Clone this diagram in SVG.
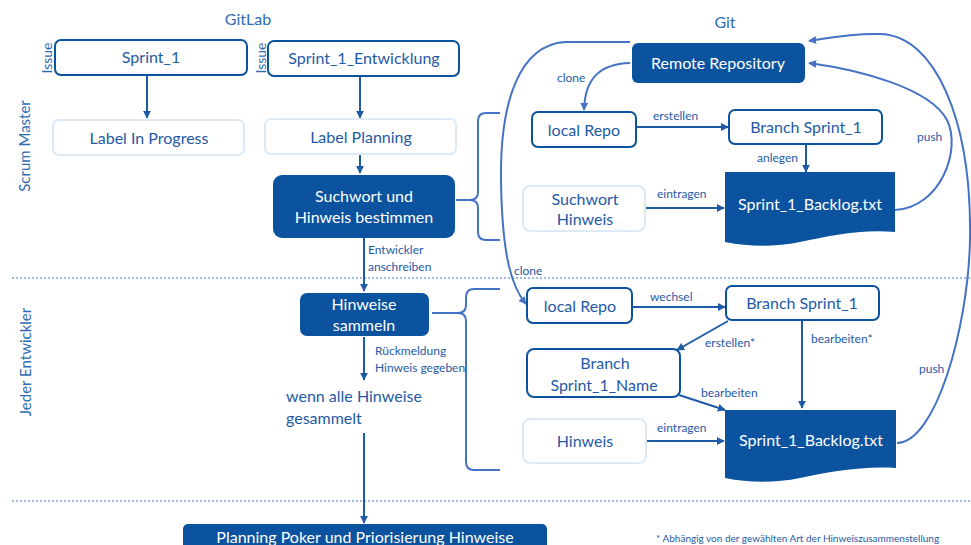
<svg xmlns="http://www.w3.org/2000/svg" width="971" height="545" viewBox="0 0 971 545">
<defs>
<style>
text{font-family:Lato,"Liberation Sans",sans-serif;}
.t{font-size:16px;fill:#1F5AA6;text-anchor:middle;}
.w{font-size:16px;fill:#FFFFFF;text-anchor:middle;}
.s{font-size:12px;fill:#1F5AA6;}
.big{font-size:16px;fill:#1F5AA6;}
.foot{font-size:10px;fill:#1F5AA6;}
.h{font-size:16px;fill:#2E6DB4;text-anchor:middle;}
.v{font-size:15px;fill:#2E6DB4;text-anchor:middle;}
.iss{font-size:14px;fill:#2E6DB4;text-anchor:middle;}
.box{fill:#FFFFFF;stroke:#0B539F;stroke-width:2;}
.lite{fill:#FFFFFF;stroke:#DDEAF6;stroke-width:2;}
.fill{fill:#0B539F;stroke:none;}
.a{fill:none;stroke:#1F5AA6;stroke-width:2;marker-end:url(#ah);}
.c{fill:none;stroke:#4472C4;stroke-width:2;}
.ca{fill:none;stroke:#4472C4;stroke-width:2;marker-end:url(#ah2);}
.dot{stroke:#4472C4;stroke-width:1;stroke-dasharray:2 2;}
</style>
<marker id="ah" viewBox="0 0 10 10" refX="9" refY="5" markerWidth="4" markerHeight="4" orient="auto"><path d="M0,0 L10,5 L0,10 z" fill="#1F5AA6"/></marker>
<marker id="ah2" viewBox="0 0 10 10" refX="9" refY="5" markerWidth="4" markerHeight="4" orient="auto"><path d="M0,0 L10,5 L0,10 z" fill="#4472C4"/></marker>
</defs>
<rect width="971" height="545" fill="#FFFFFF"/>

<g id="lanes">
<line class="dot" x1="12" y1="278" x2="971" y2="278"/>
<line class="dot" x1="12" y1="501" x2="971" y2="501"/>
<text class="v" transform="translate(30,146) rotate(-90)">Scrum Master</text>
<text class="v" transform="translate(31,362) rotate(-90)">Jeder Entwickler</text>
<text class="h" x="248" y="25">GitLab</text>
<text class="h" x="725" y="28">Git</text>
</g>

<g id="connectors">
<path class="a" d="M147,76 V118"/>
<path class="a" d="M360,77 V118"/>
<path class="a" d="M360,155 V173"/>
<path class="a" d="M364,238 V291"/>
<path class="a" d="M364,337 V380"/>
<path class="a" d="M364,433 V523"/>
<path class="a" d="M636,127 H728"/>
<path class="a" d="M806,145 V172"/>
<path class="a" d="M645,208 H724"/>
<path class="a" d="M632,307 H725"/>
<path class="a" d="M728,321 L677,350"/>
<path class="a" d="M679,395 L725,410"/>
<path class="a" d="M802,320 V408"/>
<path class="a" d="M646,441 H724"/>
<path class="ca" d="M630,63 C600,64 585,78 584,110"/>
<path class="ca" d="M630,42 L565,42 C520,45 500,100 501,180 C502,250 510,285 526,304"/>
<path class="ca" d="M895,210 C940,208 962,150 947,120 C930,88 860,70 809,63"/>
<path class="ca" d="M897,443 C935,443 968,330 970,240 C972,120 935,35 880,34 C850,33 830,38 809,41"/>
<path class="c" d="M456,200 H470 Q478,200 478,192 V121 Q478,113 486,113 H500 M470,200 Q478,200 478,208 V232 Q478,240 486,240 H500"/>
<path class="c" d="M432,313 H458 Q466,313 466,305 V297 Q466,289 474,289 H500 M458,313 Q466,313 466,321 V462 Q466,470 474,470 H500"/>
<text class="s" x="368" y="254">Entwickler</text>
<text class="s" x="368" y="271">anschreiben</text>
<text class="s" x="375" y="355">Rückmeldung</text>
<text class="s" x="375" y="372">Hinweis gegeben</text>
<text class="s" x="557" y="82">clone</text>
<text class="s" x="653" y="120">erstellen</text>
<text class="s" x="757" y="162">anlegen</text>
<text class="s" x="657" y="198">eintragen</text>
<text class="s" x="917" y="141">push</text>
<text class="s" x="514" y="275">clone</text>
<text class="s" x="650" y="301">wechsel</text>
<text class="s" x="705" y="347">erstellen*</text>
<text class="s" x="811" y="343">bearbeiten*</text>
<text class="s" x="701" y="397">bearbeiten</text>
<text class="s" x="657" y="432">eintragen</text>
<text class="s" x="919" y="373">push</text>
</g>

<g id="issue-sprint1">
<rect class="box" x="55" y="40" width="192" height="35" rx="6"/>
<text class="t" x="151" y="63">Sprint_1</text>
<text class="iss" transform="translate(52,58) rotate(-90)">Issue</text>
</g>
<g id="issue-sprint1-entwicklung">
<rect class="box" x="268" y="41" width="191" height="35" rx="6"/>
<text class="t" x="364" y="64">Sprint_1_Entwicklung</text>
<text class="iss" transform="translate(266,58) rotate(-90)">Issue</text>
</g>
<g id="label-in-progress">
<rect class="lite" x="53" y="120" width="191" height="35" rx="6"/>
<text class="t" x="149" y="144">Label In Progress</text>
</g>
<g id="label-planning">
<rect class="lite" x="265" y="119" width="191" height="35" rx="6"/>
<text class="t" x="361" y="143">Label Planning</text>
</g>
<g id="suchwort-bestimmen">
<rect class="fill" x="273" y="175" width="182" height="63" rx="9"/>
<text class="w" x="364" y="202">Suchwort und</text>
<text class="w" x="364" y="223">Hinweis bestimmen</text>
</g>
<g id="hinweise-sammeln">
<rect class="fill" x="300" y="293" width="129" height="43" rx="7"/>
<text class="w" x="364" y="310">Hinweise</text>
<text class="w" x="364" y="331">sammeln</text>
</g>
<g id="wenn-alle">
<text class="big" x="286" y="402">wenn alle Hinweise</text>
<text class="big" x="286" y="424">gesammelt</text>
</g>
<g id="planning-poker">
<rect class="fill" x="183" y="524" width="364" height="30" rx="5"/>
<text class="w" x="365" y="543">Planning Poker und Priorisierung Hinweise</text>
</g>
<g id="footnote">
<text class="foot" x="656" y="542">* Abhängig von der gewählten Art der Hinweiszusammenstellung</text>
</g>

<g id="remote-repository">
<rect class="fill" x="632" y="43" width="173" height="40" rx="6"/>
<text class="w" x="718" y="69">Remote Repository</text>
</g>
<g id="local-repo-1">
<rect class="box" x="532" y="112" width="104" height="35" rx="6"/>
<text class="t" x="584" y="136">local Repo</text>
</g>
<g id="branch-sprint1-1">
<rect class="box" x="729" y="110" width="153" height="34" rx="6"/>
<text class="t" x="806" y="133">Branch Sprint_1</text>
</g>
<g id="suchwort-hinweis">
<rect class="lite" x="523" y="186" width="122" height="45" rx="7"/>
<text class="t" x="585" y="205">Suchwort</text>
<text class="t" x="585" y="225">Hinweis</text>
</g>
<g id="backlog-1">
<path class="fill" d="M725,172 H895 V232 C860,229 830,236 800,242 C775,247 750,247 725,242 Z"/>
<text class="w" x="810" y="210">Sprint_1_Backlog.txt</text>
</g>
<g id="local-repo-2">
<rect class="box" x="527" y="288" width="105" height="35" rx="6"/>
<text class="t" x="580" y="312">local Repo</text>
</g>
<g id="branch-sprint1-2">
<rect class="box" x="726" y="286" width="153" height="34" rx="6"/>
<text class="t" x="802" y="309">Branch Sprint_1</text>
</g>
<g id="branch-sprint1-name">
<rect class="box" x="527" y="349" width="153" height="48" rx="7"/>
<text class="t" x="605" y="369">Branch</text>
<text class="t" x="604" y="391">Sprint_1_Name</text>
</g>
<g id="hinweis">
<rect class="lite" x="523" y="419" width="123" height="44" rx="7"/>
<text class="t" x="585" y="447">Hinweis</text>
</g>
<g id="backlog-2">
<path class="fill" d="M725,410 H896 V468 C860,466 830,472 800,478 C775,483 750,483 725,478 Z"/>
<text class="w" x="811" y="446">Sprint_1_Backlog.txt</text>
</g>
</svg>
